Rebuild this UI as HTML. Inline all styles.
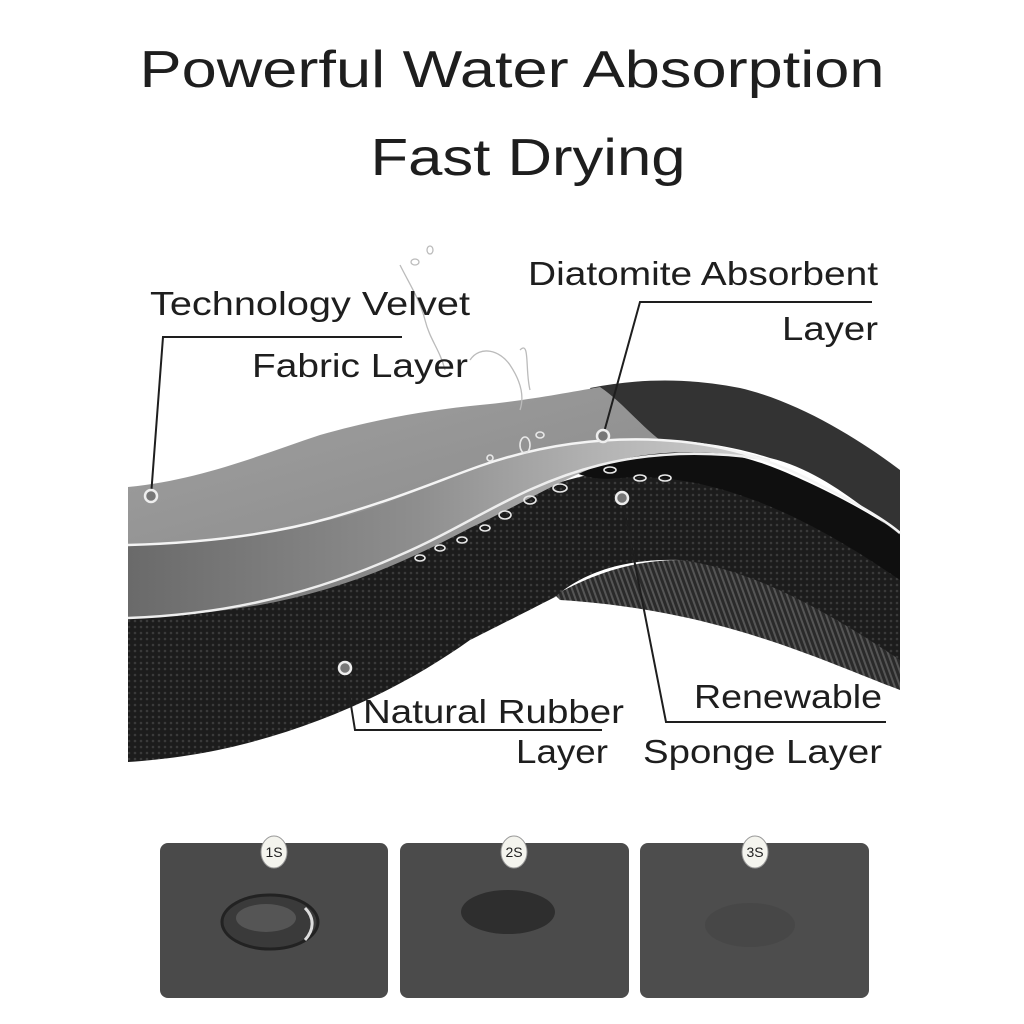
<!DOCTYPE html>
<html><head><meta charset="utf-8"><style>
html,body{margin:0;padding:0;background:#fff;width:1024px;height:1024px;overflow:hidden}
svg{display:block}
text{font-family:"Liberation Sans",Arial,sans-serif;fill:#1e1e1e}
</style></head><body>
<svg width="1024" height="1024" viewBox="0 0 1024 1024" xmlns="http://www.w3.org/2000/svg">
<defs>
<linearGradient id="mid" x1="0" y1="0" x2="1" y2="0">
<stop offset="0" stop-color="#6a6a6a"/><stop offset="0.45" stop-color="#8e8e8e"/><stop offset="0.75" stop-color="#b5b5b5"/><stop offset="1" stop-color="#cfcfcf"/>
</linearGradient>
<linearGradient id="fab" x1="0" y1="0" x2="1" y2="1">
<stop offset="0" stop-color="#a0a0a0"/><stop offset="1" stop-color="#8a8a8a"/>
</linearGradient>
<pattern id="knit" width="6" height="6" patternUnits="userSpaceOnUse">
<rect width="6" height="6" fill="#1c1c1c"/><circle cx="3" cy="3" r="1.3" fill="#3a3a3a"/>
</pattern>
<pattern id="rib" width="5" height="8" patternUnits="userSpaceOnUse" patternTransform="rotate(-20)">
<rect width="5" height="8" fill="#2a2a2a"/><rect width="2" height="8" fill="#555"/>
</pattern>
</defs>

<text x="512" y="87" font-size="52" text-anchor="middle" textLength="745" lengthAdjust="spacingAndGlyphs">Powerful Water Absorption</text>
<text x="528" y="175" font-size="52" text-anchor="middle" textLength="315" lengthAdjust="spacingAndGlyphs">Fast Drying</text>

<!-- ribbed underside -->
<path d="M555,595 C600,570 640,560 680,560 C760,565 840,610 900,650 L900,690 C820,660 720,610 560,600 Z" fill="url(#rib)"/>
<!-- black rubber -->
<path d="M128,615 C230,612 300,600 380,570 C450,540 520,480 620,470 C720,465 820,520 900,570 L900,660 C840,620 760,570 680,560 C620,558 580,575 555,597 C520,615 490,630 470,640 C400,690 320,725 240,745 C200,755 160,760 128,762 Z" fill="url(#knit)"/>
<!-- dark sponge band right -->
<path d="M570,470 C650,440 720,445 780,470 C840,495 880,520 900,533 L900,580 C820,525 720,470 620,478 C600,480 585,478 570,470 Z" fill="#0f0f0f"/>
<!-- back dark diatomite layer -->
<path d="M590,388 C640,378 690,378 740,388 C800,402 860,440 900,470 L900,535 C860,505 820,470 770,458 C720,442 670,438 620,440 Z" fill="#333"/>
<!-- mid gray layer -->
<path d="M128,545 C200,545 270,535 330,518 C400,500 440,480 480,466 C540,445 600,437 660,440 C700,442 740,450 770,460 C700,448 650,450 600,465 C560,480 520,505 470,528 C400,565 340,590 260,605 C210,613 170,617 128,618 Z" fill="url(#mid)"/>
<path d="M128,618 C210,615 300,600 400,555 C470,525 520,485 600,465 C660,450 720,452 770,460" fill="none" stroke="#eee" stroke-width="2.5"/>
<!-- top fabric -->
<path d="M128,487 C200,480 260,455 320,435 C380,418 430,410 480,405 C530,400 565,393 600,387 C620,400 640,425 660,440 C600,437 540,445 480,466 C420,488 380,510 320,522 C250,537 190,543 128,545 Z" fill="url(#fab)"/>
<path d="M128,545 C200,543 270,535 330,518 C400,498 440,480 480,466 C540,445 600,437 660,440 C720,443 770,458 820,485 C860,505 885,520 900,533" fill="none" stroke="#f4f4f4" stroke-width="2.5"/>
<!-- water drops -->
<g fill="none" stroke="#e8e8e8" stroke-width="1.6">
<ellipse cx="420" cy="558" rx="5" ry="3"/><ellipse cx="440" cy="548" rx="5" ry="3"/><ellipse cx="462" cy="540" rx="5" ry="3"/><ellipse cx="485" cy="528" rx="5" ry="3"/>
<ellipse cx="505" cy="515" rx="6" ry="4"/><ellipse cx="530" cy="500" rx="6" ry="4"/><ellipse cx="560" cy="488" rx="7" ry="4"/>
<ellipse cx="610" cy="470" rx="6" ry="3"/><ellipse cx="640" cy="478" rx="6" ry="3"/><ellipse cx="665" cy="478" rx="6" ry="3"/>
<ellipse cx="490" cy="458" rx="3" ry="3"/><ellipse cx="525" cy="445" rx="5" ry="8"/><ellipse cx="540" cy="435" rx="4" ry="3"/>
</g>
<g fill="none" stroke="#bbb" stroke-width="1.3">
<path d="M400,265 C410,285 420,300 425,320 C430,340 440,350 445,370"/><ellipse cx="430" cy="250" rx="3" ry="4"/><ellipse cx="415" cy="262" rx="4" ry="3"/>
<path d="M470,360 C480,345 500,350 510,365 C520,380 525,395 520,410"/><path d="M520,350 C530,340 525,370 530,390"/>
</g>

<!-- leader lines -->
<g stroke="#1e1e1e" stroke-width="2" fill="none">
<path d="M151,496 L163,337 L402,337"/>
<path d="M603,436 L640,302 L872,302"/>
<path d="M622,498 L666,722 L886,722"/>
<path d="M345,668 L355,730 L602,730"/>
</g>
<g fill="#777" stroke="#eee" stroke-width="2.5">
<circle cx="151" cy="496" r="6"/><circle cx="603" cy="436" r="6"/><circle cx="622" cy="498" r="6"/><circle cx="345" cy="668" r="6"/>
</g>

<g font-size="33">
<text x="150" y="315" textLength="320" lengthAdjust="spacingAndGlyphs">Technology Velvet</text>
<text x="252" y="377" textLength="216" lengthAdjust="spacingAndGlyphs">Fabric Layer</text>
<text x="528" y="285" textLength="350" lengthAdjust="spacingAndGlyphs">Diatomite Absorbent</text>
<text x="782" y="340" textLength="96" lengthAdjust="spacingAndGlyphs">Layer</text>
<text x="363" y="723" textLength="261" lengthAdjust="spacingAndGlyphs">Natural Rubber</text>
<text x="516" y="763" textLength="92" lengthAdjust="spacingAndGlyphs">Layer</text>
<text x="694" y="708" textLength="188" lengthAdjust="spacingAndGlyphs">Renewable</text>
<text x="643" y="763" textLength="239" lengthAdjust="spacingAndGlyphs">Sponge Layer</text>
</g>

<!-- bottom panels -->
<rect x="160" y="843" width="228" height="155" rx="8" fill="#4a4a4a"/>
<rect x="400" y="843" width="229" height="155" rx="8" fill="#4b4b4b"/>
<rect x="640" y="843" width="229" height="155" rx="8" fill="#4d4d4d"/>
<ellipse cx="270" cy="922" rx="48" ry="27" fill="#3a3a3a" stroke="#222" stroke-width="3"/>
<ellipse cx="266" cy="918" rx="30" ry="14" fill="#555"/>
<path d="M305,908 C315,918 314,930 305,940" stroke="#ddd" stroke-width="3" fill="none"/>
<ellipse cx="508" cy="912" rx="47" ry="22" fill="#2e2e2e"/>
<ellipse cx="750" cy="925" rx="45" ry="22" fill="#474747"/>
<g font-size="14" text-anchor="middle">
<ellipse cx="274" cy="852" rx="13" ry="16" fill="#f4f4ee" stroke="#999"/><text x="274" y="857">1S</text>
<ellipse cx="514" cy="852" rx="13" ry="16" fill="#f4f4ee" stroke="#999"/><text x="514" y="857">2S</text>
<ellipse cx="755" cy="852" rx="13" ry="16" fill="#f4f4ee" stroke="#999"/><text x="755" y="857">3S</text>
</g>
</svg>
</body></html>
